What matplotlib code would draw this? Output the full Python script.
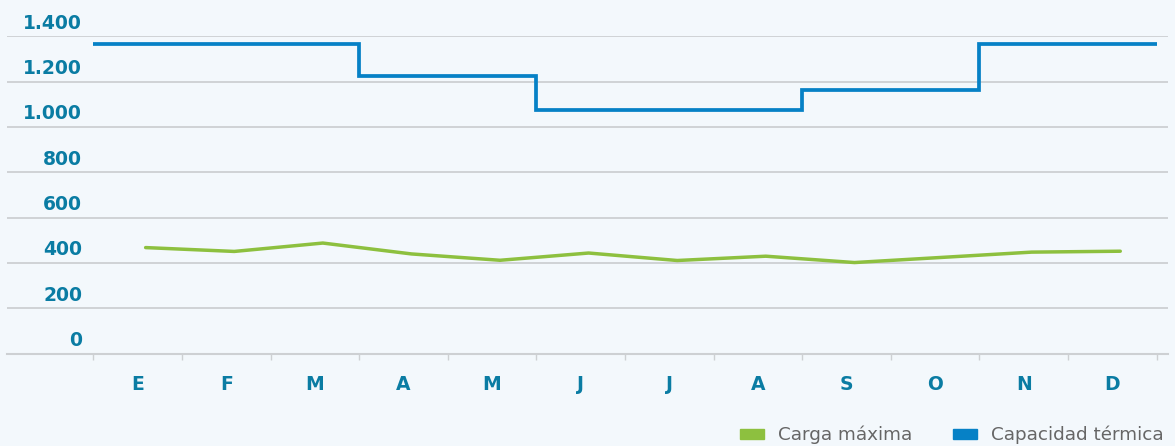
import numpy as np
import matplotlib
matplotlib.use("Agg")
import matplotlib.pyplot as plt
from matplotlib.patches import Patch
from matplotlib.transforms import ScaledTranslation

# monthly data
months = ["E", "F", "M", "A", "M", "J", "J", "A", "S", "O", "N", "D"]
carga_maxima = [468, 451, 488, 440, 412, 444, 411, 430, 402, 425, 448, 452]
capacidad_termica = [1368, 1368, 1368, 1225, 1225, 1074, 1074, 1074, 1163, 1163, 1368, 1368]
y_ticks = [0, 200, 400, 600, 800, 1000, 1200, 1400]
y_labels = ["0", "200", "400", "600", "800", "1.000", "1.200", "1.400"]

bg = "#f3f8fc"
teal = "#0a7ca3"
green = "#8dc03f"
blue = "#0681c6"
grid = "#cdd0d3"

fig = plt.figure(figsize=(11.75, 4.46), dpi=100, facecolor=bg)
ax = fig.add_axes([0.006, 0.207, 0.988, 0.7116], facecolor=bg)

x = np.arange(len(months))
edges = np.arange(len(months) + 1) - 0.5

ax.stairs(capacidad_termica, edges, baseline=None, color=blue, lw=2.7,
          zorder=3)
ax.plot(x + 0.09, carga_maxima, color=green, lw=2.5, zorder=3,
        solid_capstyle="round")

ax.set_xlim(-1.474, 11.628)
ax.set_ylim(0, 1400)

for s in ["top", "right", "left"]:
    ax.spines[s].set_visible(False)
ax.spines["bottom"].set_color(grid)
ax.spines["bottom"].set_linewidth(1.5)

ax.set_yticks(y_ticks)
ax.set_yticklabels(y_labels)
ax.yaxis.grid(True, color=grid, lw=1.3)
ax.set_axisbelow(True)
# pad is in points: 75 px -> 54 pt
ax.tick_params(axis="y", length=0, pad=-54, labelsize=13.5, labelcolor=teal)
for lab in ax.get_yticklabels():
    lab.set_fontweight("bold")
    lab.set_transform(lab.get_transform() + ScaledTranslation(0, 0.15, fig.dpi_scale_trans))

ax.set_xticks(x)
ax.set_xticklabels(months, fontweight="bold")
ax.set_xticks(edges, minor=True)
ax.tick_params(axis="x", which="major", length=0, pad=15, labelsize=13.5, labelcolor=teal)
ax.tick_params(axis="x", which="minor", length=4, width=1, color=grid)

handles = [Patch(color=green, label="Carga máxima"),
           Patch(color=blue, label="Capacidad térmica")]
leg = fig.legend(handles=handles, loc="center right", ncol=2,
                 bbox_to_anchor=(1164 / 1175, 11 / 446), frameon=False,
                 fontsize=13.2, handlelength=1.3, handleheight=0.44,
                 handletextpad=0.8, columnspacing=2.2, borderpad=0,
                 borderaxespad=0)
for t in leg.get_texts():
    t.set_color("#666666")

fig.savefig("out.png", dpi=100, facecolor=bg)
